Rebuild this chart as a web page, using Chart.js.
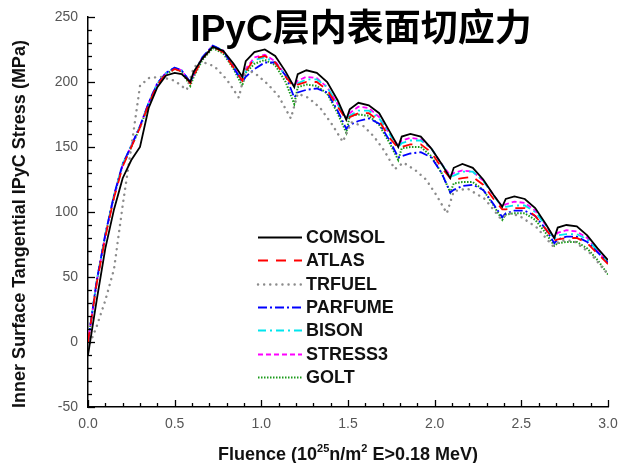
<!DOCTYPE html>
<html lang="zh">
<head>
<meta charset="UTF-8">
<title>IPyC层内表面切应力</title>
<script src="https://cdn.jsdelivr.net/npm/chart.js"></script>
<style>
  body { margin: 0; background: #fff; }
  canvas { display: block; }
</style>
</head>
<body>
<canvas id="stressChart" width="621" height="463"></canvas>
<script>
// fast fluence (10^25 n/m^2), shared by every code except TRFUEL
const fluence = [
  0, 0.05, 0.1, 0.15, 0.2, 0.25, 0.3, 0.35, 0.4, 0.45, 0.5, 0.54, 0.59,
  0.61, 0.66, 0.72, 0.78, 0.84, 0.89,
  0.91, 0.96, 1.02, 1.08, 1.14, 1.19,
  1.21, 1.26, 1.32, 1.38, 1.44, 1.49,
  1.51, 1.56, 1.62, 1.68, 1.74, 1.79,
  1.81, 1.86, 1.92, 1.98, 2.04, 2.09,
  2.11, 2.16, 2.22, 2.28, 2.34, 2.39,
  2.41, 2.46, 2.52, 2.58, 2.64, 2.69,
  2.71, 2.76, 2.82, 2.88, 2.94, 3.0
];

// inner surface tangential stress, MPa
const comsol = [
  -10, 32, 72, 102, 126, 140, 150, 180, 196, 205, 207, 206, 200,
  208, 218, 227, 224, 214, 204,
  216, 223, 225, 220, 208, 196,
  206, 209, 207, 200, 186, 171,
  179, 184, 182, 176, 162, 150,
  158, 160, 158, 149, 137, 126,
  134, 137, 134, 125, 113, 104,
  110, 112, 110, 103, 91, 80,
  88, 90, 89, 82, 72, 63
];
const atlas = [
  0, 45, 81, 111, 135, 150, 165, 183, 198, 206, 210, 208, 199,
  205, 218, 227, 223, 211, 201,
  208, 218, 220, 215, 204, 196,
  198, 200, 200, 194, 181, 171,
  173, 176, 176, 170, 157, 149,
  150, 152, 152, 146, 134, 126,
  125, 126, 127, 121, 110, 102,
  102, 103, 103, 97, 87, 78,
  79, 80, 80, 76, 68, 60
];
const parfume = [
  0, 47, 83, 113, 137, 151, 166, 184, 199, 207, 211, 209, 200,
  206, 219, 228, 224, 211, 200,
  204, 210, 215, 215, 205, 188,
  192, 194, 195, 192, 178, 164,
  167, 170, 172, 168, 155, 142,
  143, 145, 146, 142, 130, 115,
  117, 120, 121, 117, 106, 96,
  99, 101, 101, 97, 87, 76,
  79, 81, 81, 77, 69, 61
];
const bison = [
  0, 47, 83, 113, 137, 151, 166, 184, 199, 207, 211, 209, 200,
  206, 219, 228, 224, 212, 201,
  208, 217, 219, 215, 205, 197,
  199, 202, 202, 196, 183, 172,
  174, 178, 178, 172, 160, 150,
  153, 155, 155, 149, 137, 127,
  128, 131, 131, 124, 113, 103,
  104, 105, 105, 100, 90, 79,
  82, 83, 83, 79, 70, 61
];
const stress3 = [
  0, 46, 82, 112, 136, 151, 166, 184, 199, 207, 211, 209, 200,
  206, 219, 228, 224, 212, 201,
  210, 219, 221, 216, 205, 197,
  201, 204, 203, 196, 183, 172,
  176, 181, 180, 173, 160, 151,
  155, 157, 156, 149, 137, 128,
  130, 132, 131, 124, 113, 104,
  106, 108, 107, 101, 90, 80,
  84, 86, 85, 80, 70, 61
];
const golt = [
  0, 46, 82, 112, 136, 150, 165, 183, 198, 206, 210, 208, 197,
  204, 217, 226, 222, 210, 197,
  207, 214, 217, 213, 200, 183,
  196, 198, 197, 191, 176, 161,
  174, 175, 174, 167, 153, 140,
  149, 150, 150, 143, 130, 115,
  122, 123, 123, 117, 105, 94,
  98, 99, 99, 94, 84, 74,
  76, 77, 77, 72, 63, 52
];

// TRFUEL was sampled on its own fluence steps
const trfuelFluence = [
  0, 0.05, 0.1, 0.15, 0.2, 0.25, 0.3, 0.35, 0.42, 0.5, 0.57,
  0.61, 0.65, 0.73, 0.8, 0.87,
  0.91, 0.97, 1.04, 1.1, 1.17,
  1.21, 1.27, 1.34, 1.41, 1.47,
  1.52, 1.59, 1.65, 1.71, 1.77,
  1.82, 1.89, 1.95, 2.01, 2.07,
  2.11, 2.19, 2.29, 2.38,
  2.43, 2.49, 2.59, 2.68,
  2.73, 2.8, 2.9, 3.0
];
const trfuel = [
  -5, 12, 32, 56, 105, 150, 197, 203, 204, 201, 194,
  211, 216, 212, 202, 188,
  210, 206, 198, 189, 172,
  191, 188, 180, 167, 154,
  169, 166, 158, 147, 133,
  138, 132, 125, 113, 99,
  116, 118, 110, 95,
  99, 97, 88, 74,
  78, 78, 68, 52
];

const chartTitle = 'IPyC层内表面切应力';
const yTitle = 'Inner Surface Tangential IPyC Stress (MPa)';

function pts(xs, ys) {
  return xs.map((x, i) => ({ x: x, y: ys[i] }));
}

function series(label, xs, ys, color, width, dash, cap) {
  return {
    label: label,
    data: pts(xs, ys),
    borderColor: color,
    backgroundColor: color,
    borderWidth: width,
    borderDash: dash,
    borderCapStyle: cap || 'butt',
    pointRadius: 0,
    fill: false,
    tension: 0
  };
}

const datasets = [
  series('COMSOL', fluence, comsol, '#000000', 1.8, []),
  series('ATLAS', fluence, atlas, '#ff0000', 1.8, [10, 8]),
  series('TRFUEL', trfuelFluence, trfuel, '#8c8c8c', 2.4, [0.1, 6], 'round'),
  series('PARFUME', fluence, parfume, '#0000ff', 1.8, [9, 3, 2, 3]),
  series('BISON', fluence, bison, '#00e5ee', 1.8, [8, 4, 2, 4]),
  series('STRESS3', fluence, stress3, '#ff00ff', 1.8, [5, 3]),
  series('GOLT', fluence, golt, '#1a9a1a', 2, [1.5, 1.5])
];

// inward ticks, axis titles, in-plot legend and the big title
const decor = {
  id: 'decor',
  afterDraw(chart) {
    const ctx = chart.ctx;
    const xs = chart.scales.x, ys = chart.scales.y;
    const area = chart.chartArea;

    ctx.save();
    ctx.strokeStyle = '#000';
    ctx.lineWidth = 1.3;
    for (let i = 0; i <= 30; i++) {
      const v = -50 + i * 10;
      const py = Math.round(ys.getPixelForValue(v)) + 0.5;
      const len = (v % 50 === 0) ? 7 : 4;
      ctx.beginPath();
      ctx.moveTo(area.left, py);
      ctx.lineTo(area.left + len, py);
      ctx.stroke();
    }
    for (let i = 0; i <= 30; i++) {
      const v = i / 10;
      const px = Math.round(xs.getPixelForValue(v)) + 0.5;
      const len = (i % 5 === 0) ? 7 : 4;
      ctx.beginPath();
      ctx.moveTo(px, area.bottom);
      ctx.lineTo(px, area.bottom - len);
      ctx.stroke();
    }

    // y title
    ctx.fillStyle = '#111';
    ctx.font = 'bold 18px Arial, "Liberation Sans"';
    ctx.textAlign = 'center';
    ctx.textBaseline = 'middle';
    ctx.save();
    ctx.translate(20, 224);
    ctx.rotate(-Math.PI / 2);
    ctx.fillText(yTitle, 0, 0);
    ctx.restore();

    // x title with superscripts
    const parts = [
      ['Fluence (10', false], ['25', true], ['n/m', false], ['2', true], [' E>0.18 MeV)', false]
    ];
    const big = 'bold 18px Arial, "Liberation Sans"';
    const small = 'bold 11px Arial, "Liberation Sans"';
    let total = 0;
    parts.forEach(p => { ctx.font = p[1] ? small : big; total += ctx.measureText(p[0]).width; });
    let cx = 348 - total / 2;
    const base = 460;
    ctx.textAlign = 'left';
    ctx.textBaseline = 'alphabetic';
    parts.forEach(p => {
      ctx.font = p[1] ? small : big;
      ctx.fillText(p[0], cx, p[1] ? base - 8 : base);
      cx += ctx.measureText(p[0]).width;
    });

    // legend inside the plot
    const lx0 = 258, lx1 = 302, rowTop = 237, rowGap = 23.3;
    chart.data.datasets.forEach((ds, i) => {
      const y = Math.round(rowTop + i * rowGap) + 0.5;
      ctx.save();
      ctx.strokeStyle = ds.borderColor;
      ctx.lineWidth = ds.borderWidth;
      ctx.lineCap = ds.borderCapStyle;
      ctx.setLineDash(ds.borderDash);
      ctx.beginPath();
      ctx.moveTo(lx0, y);
      ctx.lineTo(lx1, y);
      ctx.stroke();
      ctx.restore();
      ctx.fillStyle = '#111';
      ctx.font = 'bold 18px Arial, "Liberation Sans"';
      ctx.textAlign = 'left';
      ctx.textBaseline = 'middle';
      ctx.fillText(ds.label, 306, y + 1);
    });

    // chart title
    ctx.fillStyle = '#000';
    ctx.font = 'bold 37px Arial, "Liberation Sans", "Noto Sans CJK SC"';
    ctx.textAlign = 'center';
    ctx.textBaseline = 'alphabetic';
    ctx.fillText(chartTitle, 361, 41);
    ctx.restore();
  }
};

const tickFont = { family: 'Arial, "Liberation Sans"', size: 14 };

new Chart(document.getElementById('stressChart'), {
  type: 'line',
  data: { datasets: datasets },
  options: {
    responsive: false,
    animation: false,
    layout: { padding: { top: 17, right: 13, left: 0, bottom: 0 } },
    plugins: { legend: { display: false }, tooltip: { enabled: false } },
    scales: {
      x: {
        type: 'linear',
        min: 0,
        max: 3,
        grid: { display: false, drawTicks: false },
        border: { display: true, color: '#000', width: 1.5 },
        ticks: {
          stepSize: 0.5,
          padding: 9,
          color: '#555',
          font: tickFont,
          maxRotation: 0,
          callback: v => v.toFixed(1)
        },
        afterFit(scale) {
          scale.height = 56;
          // the end labels may hang past the plot; keep the plot width fixed
          scale.paddingLeft = 0;
          scale.paddingRight = 0;
        }
      },
      y: {
        type: 'linear',
        min: -50,
        max: 250,
        grid: { display: false, drawTicks: false },
        border: { display: true, color: '#000', width: 1.5 },
        ticks: {
          stepSize: 50,
          padding: 10,
          color: '#555',
          font: tickFont
        },
        afterFit(scale) {
          scale.width = 88;
          scale.paddingTop = 0;
          scale.paddingBottom = 0;
        }
      }
    }
  },
  plugins: [decor]
});
</script>
</body>
</html>
